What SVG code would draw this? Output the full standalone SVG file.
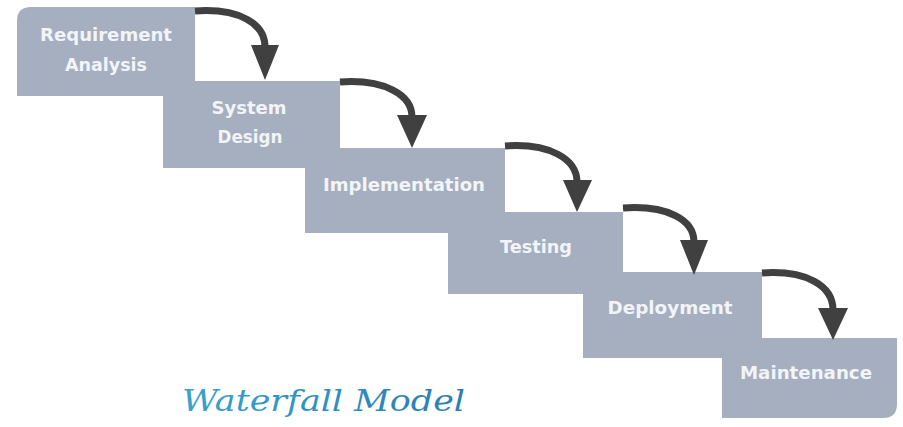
<svg xmlns="http://www.w3.org/2000/svg" width="903" height="427" viewBox="0 0 903 427">
<defs>
<linearGradient id="tg" x1="0" y1="0" x2="1" y2="0">
<stop offset="0" stop-color="#3aa2cc"/>
<stop offset="1" stop-color="#2a7db4"/>
</linearGradient>
</defs>
<style>
.step{fill:#a5afc0;}
.lbl{font-family:"DejaVu Sans","Liberation Sans",sans-serif;font-weight:bold;font-size:18px;fill:#f2f4f7;text-anchor:middle;}
.conn path{fill:none;stroke:#404040;stroke-width:7;}
.conn polygon{fill:#404040;}
.title{font-family:"DejaVu Serif","Liberation Serif",serif;font-style:italic;font-size:30px;fill:url(#tg);}
</style>
<rect width="903" height="427" fill="#ffffff"/>
<g id="node-requirement">
<path class="step" d="M17,21 Q17,7 31,7 H195 V96 H17 Z"/>
<text class="lbl" x="106" y="41" textLength="132" lengthAdjust="spacingAndGlyphs">Requirement</text>
<text class="lbl" x="106" y="71" textLength="82" lengthAdjust="spacingAndGlyphs">Analysis</text>
</g>
<g id="node-design">
<rect class="step" x="163" y="81" width="177" height="87"/>
<text class="lbl" x="249" y="114" textLength="75" lengthAdjust="spacingAndGlyphs">System</text>
<text class="lbl" x="250" y="143" textLength="65" lengthAdjust="spacingAndGlyphs">Design</text>
</g>
<g id="node-implementation">
<rect class="step" x="305" y="148" width="200" height="85"/>
<text class="lbl" x="404" y="191" textLength="162" lengthAdjust="spacingAndGlyphs">Implementation</text>
</g>
<g id="node-testing">
<rect class="step" x="448" y="212" width="175" height="82"/>
<text class="lbl" x="536" y="253" textLength="72" lengthAdjust="spacingAndGlyphs">Testing</text>
</g>
<g id="node-deployment">
<rect class="step" x="583" y="272" width="179" height="86"/>
<text class="lbl" x="670" y="314" textLength="125" lengthAdjust="spacingAndGlyphs">Deployment</text>
</g>
<g id="node-maintenance">
<path class="step" d="M722,338 H897 V404 Q897,418 883,418 H722 Z"/>
<text class="lbl" x="806" y="379" textLength="132" lengthAdjust="spacingAndGlyphs">Maintenance</text>
</g>
<g class="conn" id="connectors">
<path d="M195,11 C240,8 265,24 265,47"/>
<polygon points="251,45 279,45 265,80"/>
<path d="M340,82 C385,79 412,95 412,117"/>
<polygon points="397,115 427,115 412,148"/>
<path d="M505,146 C550,143 577,159 577,182"/>
<polygon points="563,180 592,180 577,212"/>
<path d="M623,208 C668,205 694,220 694,242"/>
<polygon points="680,240 708,240 694,275"/>
<path d="M762,273 C807,270 833,286 833,310"/>
<polygon points="818,308 848,308 833,340"/>
</g>
<text class="title" x="182" y="411" textLength="283" lengthAdjust="spacingAndGlyphs">Waterfall Model</text>
</svg>
